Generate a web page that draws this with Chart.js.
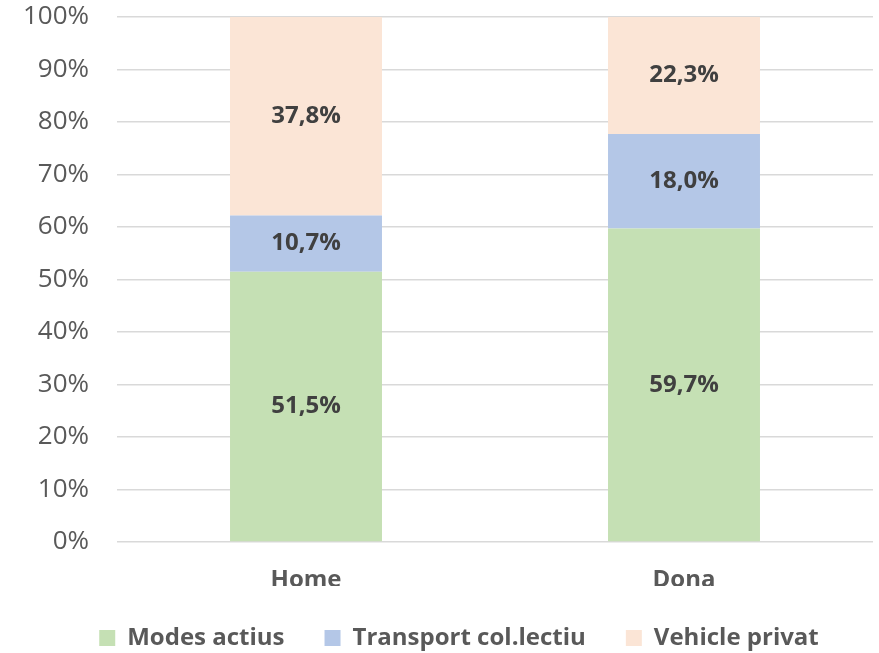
<!DOCTYPE html>
<html>
<head>
<meta charset="utf-8">
<script src="https://cdn.jsdelivr.net/npm/chart.js@4"></script>
<style>
  html, body { margin: 0; padding: 0; background: #fff; }
  .wrap { width: 879px; height: 653px; }
</style>
</head>
<body>
<div class="wrap"><canvas id="chart" width="879" height="653"></canvas></div>
<script>
const categories = ['Home', 'Dona'];
const modesActius = [51.5, 59.7];
const transportCollectiu = [10.7, 18.0];
const vehiclePrivat = [37.8, 22.3];
const yTicks = [0, 10, 20, 30, 40, 50, 60, 70, 80, 90, 100];

const FONT = '"Open Sans", "Noto Sans", sans-serif';

const fmtPct = (value) => `${Number(value).toFixed(1).replace('.', ',')}%`;

// draws the value in the middle of each stacked segment
const segmentLabels = {
  id: 'segmentLabels',
  afterDatasetsDraw(chart) {
    const { ctx } = chart;
    ctx.save();
    ctx.font = `bold 24px ${FONT}`;
    ctx.fillStyle = '#404040';
    ctx.textAlign = 'center';
    ctx.textBaseline = 'middle';
    chart.data.datasets.forEach((dataset, i) => {
      chart.getDatasetMeta(i).data.forEach((bar, j) => {
        const mid = (bar.y + bar.base) / 2;
        ctx.fillText(fmtPct(dataset.data[j]), bar.x, mid);
      });
    });
    ctx.restore();
  },
};

// legend sits a bit right of the plot centre in the original
const legendNudge = {
  id: 'legendNudge',
  afterLayout(chart) {
    chart.legend.left += 10;
    chart.legend.right += 10;
  },
};

new Chart(document.getElementById('chart'), {
  type: 'bar',
  data: {
    labels: categories,
    datasets: [
      { label: 'Modes actius', data: modesActius, backgroundColor: '#C5E0B4' },
      { label: 'Transport col.lectiu', data: transportCollectiu, backgroundColor: '#B4C7E7' },
      { label: 'Vehicle privat', data: vehiclePrivat, backgroundColor: '#FBE5D6' },
    ],
  },
  options: {
    responsive: false,
    animation: false,
    datasets: { bar: { barPercentage: 0.402, categoryPercentage: 1 } },
    layout: { padding: { left: 25, right: 6, top: 17, bottom: -7 } },
    plugins: {
      tooltip: { enabled: false },
      legend: {
        position: 'bottom',
        labels: {
          font: { family: FONT, size: 24, weight: 'bold' },
          color: '#595959',
          boxWidth: 16,
          boxHeight: 16,
          padding: 40,
        },
      },
    },
    scales: {
      x: {
        stacked: true,
        grid: { display: false, drawTicks: false },
        border: { display: false },
        afterFit: (scale) => { scale.height = 44; },
        ticks: {
          font: { family: FONT, size: 24, weight: 'bold' },
          color: '#595959',
          padding: 24,
        },
      },
      y: {
        stacked: true,
        min: 0,
        max: 100,
        afterBuildTicks: (scale) => { scale.ticks = yTicks.map((value) => ({ value })); },
        afterFit: (scale) => {
          scale.width = 92;
          scale.paddingTop = 0;
          scale.paddingBottom = 0;
        },
        grid: { color: '#D9D9D9', lineWidth: 1.5, drawTicks: false },
        border: { display: false },
        ticks: {
          font: { family: FONT, size: 26 },
          color: '#595959',
          padding: 28,
          callback: (value) => `${value}%`,
        },
      },
    },
  },
  plugins: [segmentLabels, legendNudge],
});
</script>
</body>
</html>
